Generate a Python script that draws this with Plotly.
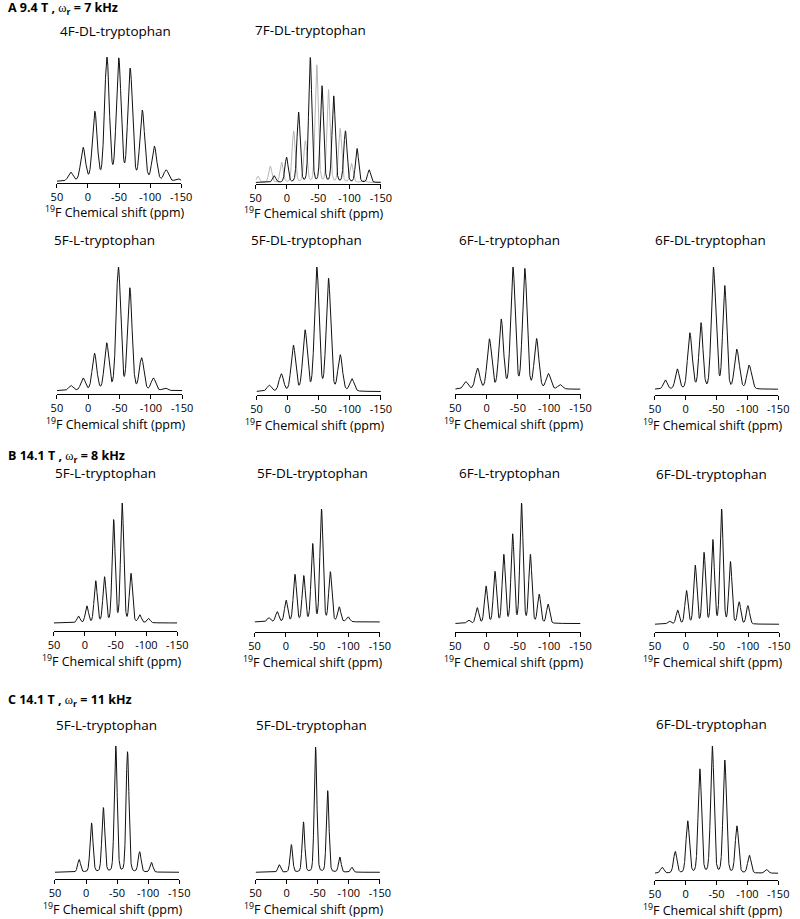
import numpy as np
import plotly.graph_objects as go

W, H = 800, 919

# ---------------- data: sideband positions (ppm) and relative heights ----------------
# A: 9.4 T, 7 kHz
A_4F_DL_pos = [27.9, 7.9, -11.0, -30.5, -49.5, -67.9, -87.4, -106.8, -125.8, -144.7]
A_4F_DL_amp = [0.072, 0.27, 0.56, 1.0, 0.99, 0.91, 0.57, 0.28, 0.09, 0.02]

A_7F_DL_site1_pos = [20.4, 0.6, -18.6, -37.3, -56.0, -74.7, -93.4, -112.0, -131.3]
A_7F_DL_site1_amp = [0.053, 0.20, 0.56, 1.0, 0.77, 0.69, 0.41, 0.27, 0.10]
A_7F_DL_site2_pos = [46.4, 26.6, 8.4, -10.8, -29.5, -47.7, -66.4, -85.0, -103.2, -122.5]
A_7F_DL_site2_amp = [0.05, 0.13, 0.16, 0.41, 0.33, 0.94, 0.74, 0.43, 0.15, 0.02]

A_5F_L_pos = [27.5, 8.2, -10.0, -29.4, -48.2, -66.4, -85.2, -104.0, -122.3]
A_5F_L_amp = [0.04, 0.10, 0.30, 0.38, 1.0, 0.83, 0.26, 0.10, 0.02]

A_5F_DL_pos = [29.6, 10.2, -9.2, -28.0, -46.9, -65.7, -84.6, -103.4]
A_5F_DL_amp = [0.05, 0.14, 0.37, 0.49, 1.0, 0.91, 0.29, 0.10]

A_6F_L_pos = [33.2, 14.4, -4.5, -23.3, -42.1, -61.0, -79.8, -98.7, -117.5]
A_6F_L_amp = [0.06, 0.17, 0.41, 0.57, 1.0, 0.99, 0.41, 0.125, 0.035]

A_6F_DL_pos = [33.2, 13.7, -5.8, -24.7, -44.2, -63.2, -81.6, -101.6, -9.5, -48.5, -86.0, -105.5]
A_6F_DL_amp = [0.087, 0.19, 0.43, 0.625, 1.0, 0.98, 0.30, 0.17, 0.18, 0.35, 0.16, 0.10]

# B: 14.1 T, 8 kHz
B_5F_L_pos = [10.3, -3.4, -17.7, -32.0, -46.8, -60.6, -74.9, -89.2, -103.4]
B_5F_L_amp = [0.056, 0.14, 0.35, 0.38, 0.86, 1.0, 0.41, 0.064, 0.036]

B_5F_DL_pos = [27.5, 13.9, -0.3, -14.4, -28.5, -42.7, -56.8, -70.9, -85.1, -99.2]
B_5F_DL_amp = [0.036, 0.09, 0.19, 0.42, 0.405, 0.69, 1.0, 0.44, 0.13, 0.044]

B_6F_L_pos = [29.0, 14.9, 0.8, -13.4, -27.5, -41.6, -55.8, -69.9, -84.0, -98.2]
B_6F_L_amp = [0.028, 0.13, 0.31, 0.43, 0.57, 0.74, 1.0, 0.57, 0.24, 0.16]

B_6F_DL_pos = [27.0, 13.4, -0.8, -14.9, -29.0, -43.2, -57.3, -71.5, -85.6, -99.7]
B_6F_DL_amp = [0.026, 0.12, 0.29, 0.51, 0.62, 0.73, 1.0, 0.54, 0.19, 0.16]

# C: 14.1 T, 11 kHz
C_5F_L_pos = [11.1, -8.9, -27.9, -47.9, -66.8, -86.3, -105.3]
C_5F_L_amp = [0.10, 0.39, 0.51, 1.0, 0.955, 0.16, 0.077]

C_5F_DL_pos = [12.0, -7.5, -27.0, -46.5, -66.0, -85.5, -105.0]
C_5F_DL_amp = [0.06, 0.22, 0.40, 1.0, 0.65, 0.12, 0.04]

C_6F_DL_pos = [38.3, 17.0, -3.2, -22.9, -43.1, -63.3, -83.0, -103.2, -131.0]
C_6F_DL_amp = [0.047, 0.17, 0.41, 0.82, 1.0, 0.89, 0.37, 0.14, 0.03]

TICK_VALS = [50, 0, -50, -100, -150]
TICK_TEXT = ["50", "0", "-50", "-100", "-150"]

ROW_LABELS = [
    ("A 9.4 T , ", "7 kHz"),
    ("B 14.1 T , ", "8 kHz"),
    ("C 14.1 T , ", "11 kHz"),
]

BLACK = "#111111"
GRAY = "#b4b4b4"
FONT = "Open Sans, Liberation Sans, sans-serif"


def lineshape(pos, amp, fwhm, eta=0.15):
    x = np.linspace(50, -150, 1601)
    y = np.zeros_like(x)
    for p, a in zip(pos, amp):
        d = (x - p) / (fwhm / 2.0)
        y += a * ((1 - eta) * np.exp(-np.log(2) * d * d) + eta / (1 + d * d))
    return x, y


# panel layout: pixel geometry (x0, x1 axis extent; ay axis line y; ty top of tallest peak;
# off = baseline offset above axis; tx/tyt = title centre)
panels = [
    dict(title="4F-DL-tryptophan", series=[(A_4F_DL_pos, A_4F_DL_amp, BLACK)], fwhm=9.0,
         x0=52, x1=179, ay=182.5, ty=57, off=1.0, tx=112, tyt=30.5),
    dict(title="7F-DL-tryptophan", series=[(A_7F_DL_site2_pos, A_7F_DL_site2_amp, GRAY),
                                           (A_7F_DL_site1_pos, A_7F_DL_site1_amp, BLACK)], fwhm=6.0,
         x0=255, x1=383, ay=184, ty=57.3, off=1.5, tx=311, tyt=29.5),
    dict(title="5F-L-tryptophan", series=[(A_5F_L_pos, A_5F_L_amp, BLACK)], fwhm=8.5,
         x0=52, x1=180, ay=394, ty=267, off=3.3, tx=101, tyt=240.5),
    dict(title="5F-DL-tryptophan", series=[(A_5F_DL_pos, A_5F_DL_amp, BLACK)], fwhm=8.5,
         x0=256, x1=383, ay=395, ty=267, off=3.4, tx=307, tyt=240.5),
    dict(title="6F-L-tryptophan", series=[(A_6F_L_pos, A_6F_L_amp, BLACK)], fwhm=8.5,
         x0=459, x1=587, ay=394, ty=267, off=4.7, tx=514, tyt=240.5),
    dict(title="6F-DL-tryptophan", series=[(A_6F_DL_pos, A_6F_DL_amp, BLACK)], fwhm=7.5,
         x0=663, x1=789, ay=395, ty=267, off=5.7, tx=720, tyt=240.5),
    dict(title="5F-L-tryptophan", series=[(B_5F_L_pos, B_5F_L_amp, BLACK)], fwhm=6.0,
         x0=49, x1=175, ay=631, ty=503, off=8.0, tx=102, tyt=473),
    dict(title="5F-DL-tryptophan", series=[(B_5F_DL_pos, B_5F_DL_amp, BLACK)], fwhm=6.0,
         x0=254, x1=382, ay=632, ty=509, off=10.0, tx=313, tyt=473),
    dict(title="6F-L-tryptophan", series=[(B_6F_L_pos, B_6F_L_amp, BLACK)], fwhm=6.0,
         x0=459, x1=587, ay=632, ty=503, off=8.4, tx=514.5, tyt=473),
    dict(title="6F-DL-tryptophan", series=[(B_6F_DL_pos, B_6F_DL_amp, BLACK)], fwhm=6.0,
         x0=663, x1=790, ay=632, ty=509, off=7.7, tx=720.5, tyt=473.5),
    dict(title="5F-L-tryptophan", series=[(C_5F_L_pos, C_5F_L_amp, BLACK)], fwhm=5.5,
         x0=50, x1=177, ay=879, ty=746, off=6.7, tx=102.5, tyt=725),
    dict(title="5F-DL-tryptophan", series=[(C_5F_DL_pos, C_5F_DL_amp, BLACK)], fwhm=5.0,
         x0=255, x1=382, ay=879, ty=747, off=6.7, tx=312, tyt=725),
    dict(title="6F-DL-tryptophan", series=[(C_6F_DL_pos, C_6F_DL_amp, BLACK)], fwhm=6.5,
         x0=663, x1=789, ay=880, ty=746, off=6.7, tx=720.5, tyt=724),
]

fig = go.Figure()
annotations = []
layout = {}

for i, p in enumerate(panels, start=1):
    xa = "x" if i == 1 else f"x{i}"
    ya = "y" if i == 1 else f"y{i}"
    curves = [(lineshape(pos, amp, p["fwhm"]), col) for pos, amp, col in p["series"]]
    top = max(c[0][1].max() for c in curves)
    for (xs, ys), col in curves:
        fig.add_trace(go.Scatter(x=xs, y=ys / top, mode="lines", xaxis=xa, yaxis=ya,
                                 line=dict(color=col, width=1), hoverinfo="skip",
                                 showlegend=False))
    h = p["ay"] - p["ty"]
    d = p["off"]
    layout["xaxis" if i == 1 else f"xaxis{i}"] = dict(
        domain=[p["x0"] / W, p["x1"] / W], range=[50, -150], anchor=ya,
        showline=True, linecolor="black", linewidth=1, mirror=False,
        ticks="outside", ticklen=4, tickwidth=1, tickcolor="black",
        tickvals=TICK_VALS, ticktext=TICK_TEXT,
        tickfont=dict(family=FONT, size=11, color="black"),
        showgrid=False, zeroline=False, fixedrange=True,
    )
    layout["yaxis" if i == 1 else f"yaxis{i}"] = dict(
        domain=[1 - p["ay"] / H, 1 - p["ty"] / H], range=[-d / (h - d), 1.0],
        anchor=xa, visible=False, fixedrange=True,
    )
    annotations.append(dict(text=p["title"], x=p["tx"] / W, y=1 - p["tyt"] / H,
                            xref="paper", yref="paper", showarrow=False,
                            xanchor="center", yanchor="middle",
                            font=dict(family=FONT, size=13.5, color="black")))
    annotations.append(dict(text="<sup>19</sup>F Chemical shift (ppm)",
                            x=((p["x0"] + p["x1"]) / 2 - 4) / W, y=1 - (p["ay"] + 29.5) / H,
                            xref="paper", yref="paper", showarrow=False,
                            xanchor="center", yanchor="middle",
                            font=dict(family=FONT, size=12.5, color="black")))

row_y = [8, 456, 700]
for (pre, post), yy in zip(ROW_LABELS, row_y):
    txt = (f"<b>{pre}</b><span style=\"font-family:Liberation Serif;font-weight:normal\">ω</span>"
           f"<b><sub>r</sub> = {post}</b>")
    annotations.append(dict(text=txt, x=0, y=1 - yy / H, xref="paper", yref="paper",
                            showarrow=False, xanchor="left", yanchor="middle",
                            font=dict(family="Liberation Sans Narrow, Open Sans, sans-serif",
                                      size=12.5, color="black")))

fig.update_layout(**layout)
fig.update_layout(width=W, height=H, margin=dict(l=0, r=0, t=0, b=0),
                  paper_bgcolor="white", plot_bgcolor="white",
                  annotations=annotations, showlegend=False)

fig.write_html("out.html", config={"displayModeBar": False},
               post_script="document.body.style.margin='0';document.body.style.padding='0';"
                           "document.body.style.overflow='hidden';")
